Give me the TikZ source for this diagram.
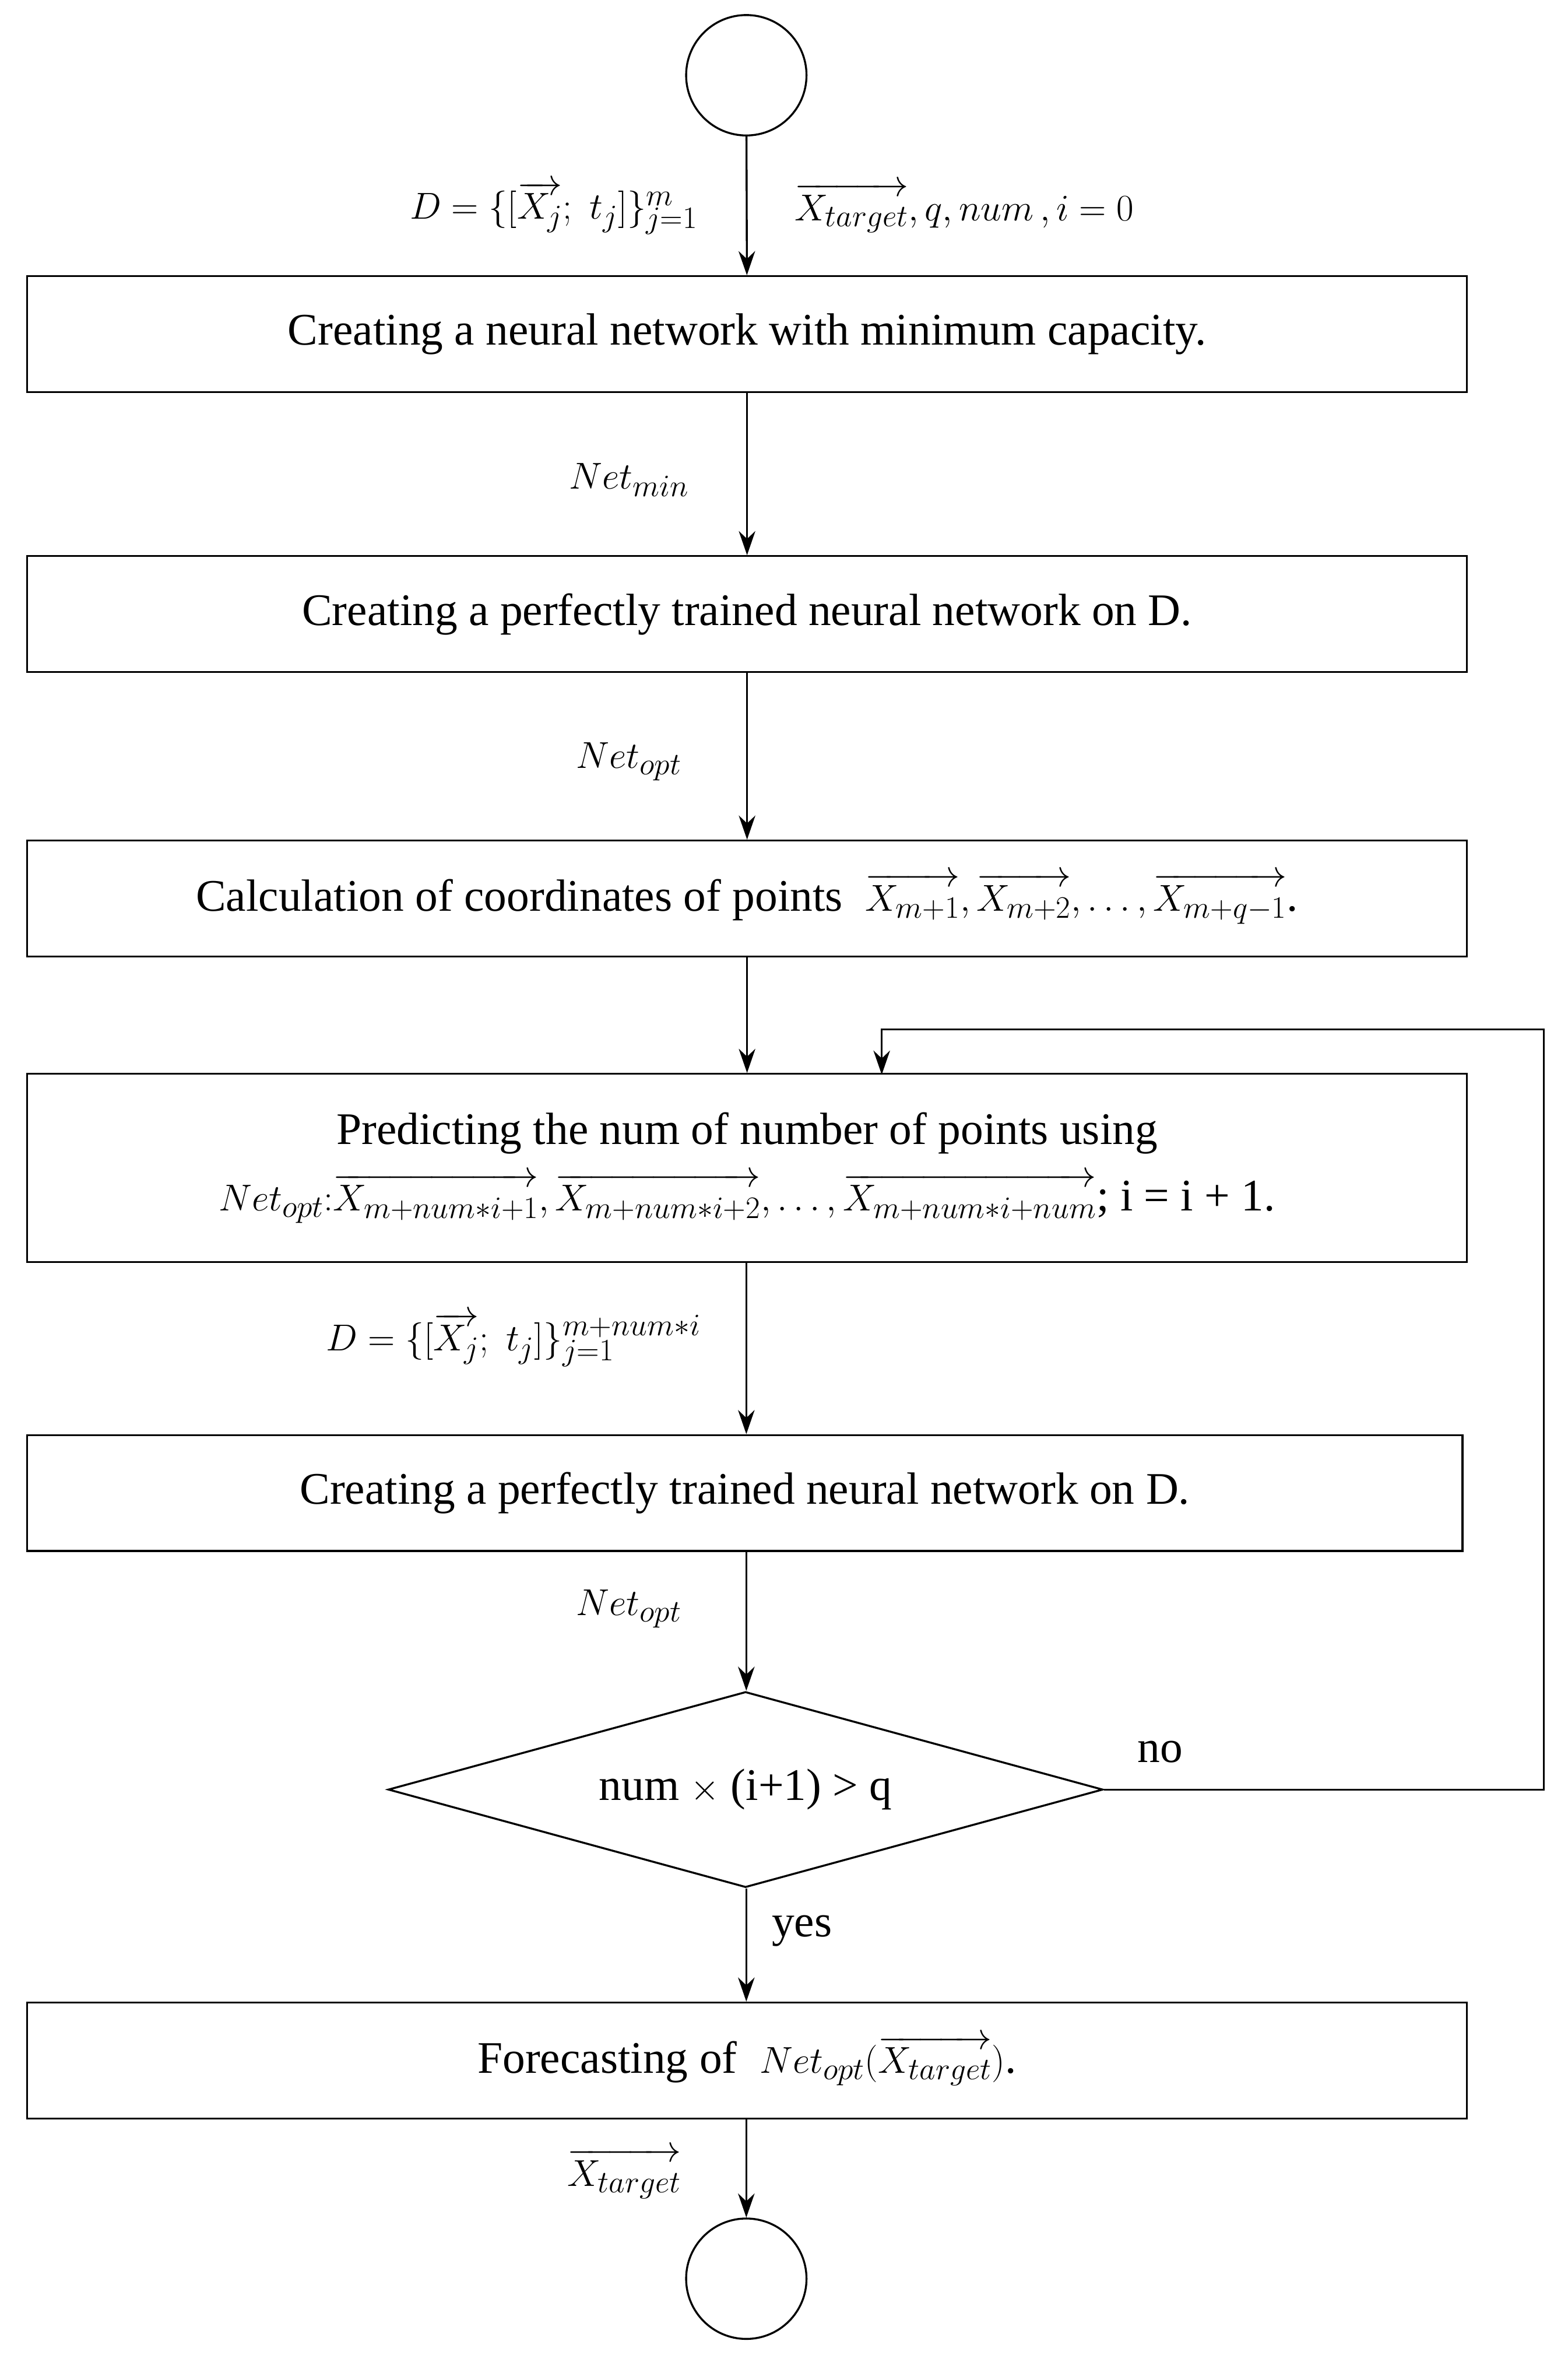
\documentclass[tikz,border=0pt]{standalone}
\usepackage{fontspec}
\setmainfont{Liberation Serif}
\usetikzlibrary{shapes.geometric,arrows.meta}
\begin{document}
\fontsize{30}{34}\selectfont
\newcommand{\vecx}[1]{\overrightarrow{#1}}
\begin{tikzpicture}[x=1pt,y=-1pt,
  box/.style={draw,line width=1.3pt,minimum width=957pt,minimum height=77pt,inner sep=0pt,align=center},
  term/.style={draw,circle,line width=1.3pt,minimum size=80pt,inner sep=0pt},
  arr/.style={-{Stealth[length=16pt,width=11pt]},line width=1.3pt},
  lab/.style={inner sep=2pt}]
\useasboundingbox (0,0) rectangle (1042,1574);
\node[term] (s) at (496,50) {};
\node[box] (b1) at (496.5,222) {Creating a neural network with minimum capacity.};
\node[box] (b2) at (496.5,408) {Creating a perfectly trained neural network on D.};
\node[box] (b3) at (496.5,597) {Calculation of coordinates of points\ \ $\vecx{X_{m+1}},\vecx{X_{m+2}},\ldots,\vecx{X_{m+q-1}}$.};
\node[box,minimum height=125pt] (b4) at (496.5,776) {Predicting the num of number of points using\\[10pt]
 $Net_{opt}{:}\vecx{X_{m+num*i+1}},\vecx{X_{m+num*i+2}},\ldots,\vecx{X_{m+num*i+num}}$;\ i = i + 1.};
\node[box,minimum width=954pt] (b5) at (495,992) {Creating a perfectly trained neural network on D.};
\node[draw,diamond,aspect=3.65,line width=1.3pt,minimum width=475pt,minimum height=130pt,inner sep=0pt] (d) at (495.5,1189) {num $\times$ (i+1) > q};
\node[box] (b6) at (496.5,1369) {Forecasting of\ \ $Net_{opt}(\vecx{X_{target}})$.};
\node[term] (e) at (496,1514) {};
\coordinate (c1) at (1026,1189);
\coordinate (c2) at (1026,684);
\coordinate (c3) at (586,684);
\coordinate (c4) at (586,714);
\draw[arr] (s) -- (b1);
\draw[arr] (b1) -- (b2);
\draw[arr] (b2) -- (b3);
\draw[arr] (b3) -- (b4);
\draw[arr] (b4.south -| 496,0) -- (b5.north -| 496,0);
\draw[arr] (b5.south -| 496,0) -- (d.north -| 496,0);
\draw[arr] (d.south -| 496,0) -- (b6.north -| 496,0);
\draw[arr] (b6.south -| 496,0) -- (e);
\draw[arr] (d.east) -- (c1) -- (c2) -- (c3) -- (c4);
\node[lab,anchor=east] (l1) at (466,138) {$D=\{[\vecx{X_j};\ t_j]\}_{j=1}^{m}$};
\node[lab,anchor=west] (l2) at (526,138) {$\vecx{X_{target}},q,num\,,i=0$};
\node[lab] (l3) at (418,319) {$Net_{min}$};
\node[lab] (l4) at (418,506) {$Net_{opt}$};
\node[lab,anchor=east] (l5) at (468,890) {$D=\{[\vecx{X_j};\ t_j]\}_{j=1}^{m+num*i}$};
\node[lab] (l6) at (418,1069) {$Net_{opt}$};
\node[lab] (l7) at (771,1164) {no};
\node[lab] (l8) at (533,1283) {yes};
\node[lab] (l9) at (415,1444) {$\vecx{X_{target}}$};
\end{tikzpicture}
\end{document}
